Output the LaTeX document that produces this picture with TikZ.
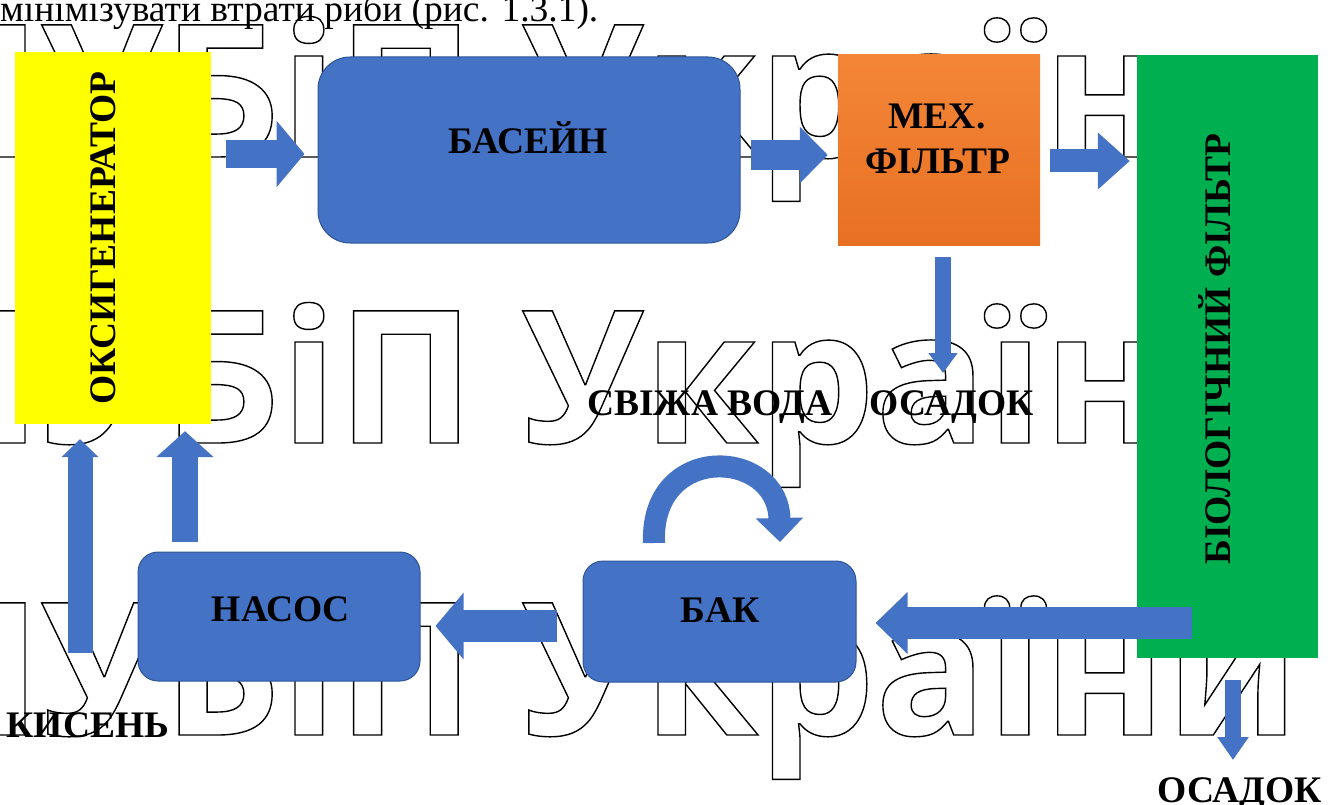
\documentclass[tikz,border=0pt]{standalone}
\usepackage{fontspec}
\setmainfont{Liberation Serif}
\newfontfamily\wmfont{Open Sans}
\usetikzlibrary{arrows.meta}
\definecolor{bl}{HTML}{4472C4}
\definecolor{bldark}{HTML}{2F5597}
\definecolor{orngA}{RGB}{244,134,56}
\definecolor{orngB}{RGB}{232,112,34}
\definecolor{grn}{HTML}{00B050}
\definecolor{yel}{HTML}{FFFF00}
\newcommand\wmtext{\special{pdf:literal 0 G 1.4 w 1 Tr}НУБіП України\special{pdf:literal 0 Tr}}
\tikzset{
  lbl/.style={font=\fontsize{37.5}{45}\selectfont\bfseries, inner sep=0pt, text=black, text height=25pt, text depth=0pt},
  box/.style={inner sep=0pt},
  bbox/.style={box, fill=bl, draw=bldark, line width=1pt},
  barrow/.style={draw=bl, line width=#1},
  wm/.style={anchor=base west, inner sep=0pt, font=\wmfont\bfseries\fontsize{185}{185}\selectfont},
}
\begin{document}
\begin{tikzpicture}[x=1pt,y=-1pt]
\useasboundingbox (0,0) rectangle (1338,805);
% watermark
\node[wm] (wm1) at (-100,157) {\wmtext};
\node[wm] (wm2) at (-100,443) {\wmtext};
\node[wm] (wm3) at (-100,735) {\wmtext};
% top text
\node[anchor=base west, inner sep=0pt, font=\fontsize{37.5}{40}\selectfont] (top) at (0,22) {мінімізувати втрати риби (рис. 1.3.1).};
% boxes
\node[box, fill=yel, minimum width=196pt, minimum height=372pt] (oks) at (113,238) {};
\node[bbox, rounded corners=32pt, minimum width=422pt, minimum height=186pt] (basin) at (529,150) {};
\node[box, top color=orngA, bottom color=orngB, minimum width=202pt, minimum height=190pt] (mech) at (939,150) {};
\node[box, fill=grn, minimum width=181pt, minimum height=603pt] (bio) at (1227.5,356.5) {};
\node[bbox, rounded corners=20pt, minimum width=273pt, minimum height=121pt] (bak) at (719.5,621.5) {};
\node[bbox, rounded corners=20pt, minimum width=282pt, minimum height=129pt] (nasos) at (279,616.5) {};
% box texts
\node[lbl, rotate=90] (oksT) at (103,238) {ОКСИГЕНЕРАТОР};
\node[lbl] (basinT) at (528,141) {БАСЕЙН};
\node[lbl] (mechT1) at (937,116) {МЕХ.};
\node[lbl] (mechT2) at (938,161) {ФІЛЬТР};
\node[lbl, rotate=90] (bioT) at (1218,349) {БІОЛОГІЧНИЙ ФІЛЬТР};
\node[lbl] (bakT) at (720,610) {БАК};
\node[lbl] (nasosT) at (281,609) {НАСОС};
% labels
\node[lbl] (fresh) at (710,403) {СВІЖА ВОДА};
\node[lbl] (osad1) at (952,403) {ОСАДОК};
\node[lbl] (osad2) at (1240,790) {ОСАДОК};
\node[lbl] (kys) at (88,725) {КИСЕНЬ};
% free ends
\coordinate (d1) at (943,373);
\coordinate (d2) at (1233,760);
\coordinate (g1) at (1192,623);
\coordinate (u1) at (80,653);
\coordinate (u2) at (185,542);
% arrows
\draw[barrow=28pt, -{Triangle[width=65pt,length=28pt]}, shorten <=15pt, shorten >=13pt]
  ([yshift=-4pt]oks.east |- basin.west) -- ([yshift=-4pt]basin.west);
\draw[barrow=30pt, -{Triangle[width=55pt,length=28pt]}, shorten <=10pt, shorten >=10pt]
  ([yshift=-5pt]basin.east) -- ([yshift=-5pt]basin.east -| mech.west);
\draw[barrow=23pt, -{Triangle[width=55pt,length=32pt]}, shorten <=10pt, shorten >=7pt]
  ([yshift=-11pt]mech.east) -- ([yshift=-11pt]mech.east -| bio.west);
\draw[barrow=16pt, -{Triangle[width=28pt,length=20pt]}, shorten <=12pt]
  (mech.south -| d1) -- (d1);
\draw[barrow=32pt, -{Triangle[width=60pt,length=32pt]}, shorten >=19pt]
  (g1) -- (g1 -| bak.east);
\draw[barrow=32pt, -{Triangle[width=65pt,length=28pt]}, shorten <=26pt, shorten >=15pt]
  ([yshift=-4.5pt]bak.west) -- ([yshift=-4.5pt]bak.west -| nasos.east);
\draw[barrow=26pt, -{Triangle[width=56pt,length=26pt]}, shorten >=7pt]
  (u2) -- (u2 |- oks.south);
\draw[barrow=25pt, -{Triangle[width=36pt,length=18pt]}, shorten >=15pt]
  (u1) -- (u1 |- oks.south);
\draw[barrow=16pt, -{Triangle[width=30pt,length=23pt]}, shorten <=22pt]
  (bio.south -| d2) -- (d2);
% curved arrow over the tank
\coordinate (c1) at (654,543);
\coordinate (c2) at (780,542);
\draw[barrow=22pt, -{Triangle[width=46pt,length=24pt]}]
  (c1) .. controls (650,442) and (778,448) .. (c2);
\end{tikzpicture}
\end{document}
